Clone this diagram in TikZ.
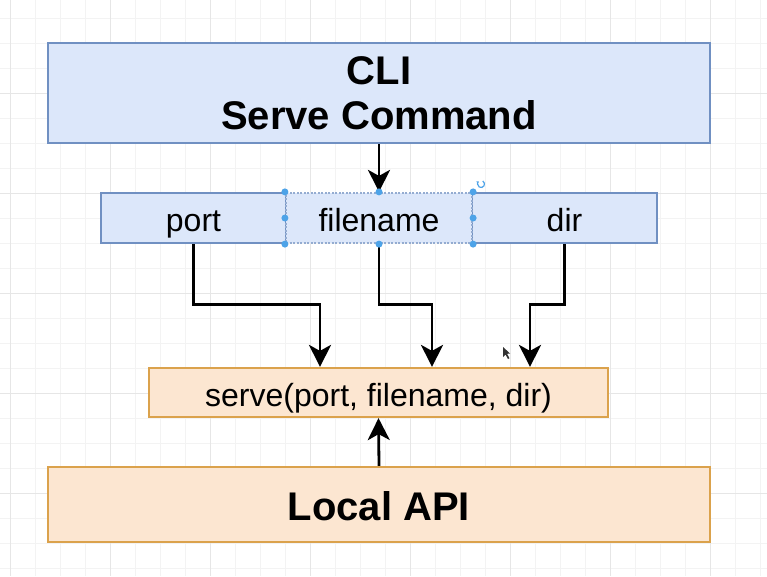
\documentclass[tikz,border=0pt]{standalone}
\usepackage{fontspec}
\setmainfont{Liberation Sans}
\usetikzlibrary{arrows.meta}
\definecolor{bluefill}{HTML}{DCE7FA}
\definecolor{blueline}{HTML}{7090C2}
\definecolor{orfill}{HTML}{FCE6D1}
\definecolor{orline}{HTML}{DBA24C}
\definecolor{gridminor}{HTML}{F3F3F3}
\definecolor{gridmajor}{HTML}{E6E6E6}
\definecolor{handle}{HTML}{4DA3E8}
\tikzset{
  bluebox/.style={draw=blueline, fill=bluefill, line width=2.2pt, rectangle, inner sep=0pt},
  orbox/.style={draw=orline, fill=orfill, line width=2.2pt, rectangle, inner sep=0pt},
  bigtxt/.style={font=\fontsize{40}{44}\selectfont\bfseries},
  bigone/.style={font=\fontsize{40}{44}\selectfont\bfseries, text height=36pt, text depth=3.4pt},
  midtxt/.style={font=\fontsize{32}{38}\selectfont, text height=30pt, text depth=3pt},
  arr/.style={draw=black, line width=2.8pt, -{Stealth[length=22pt,width=22pt,inset=6pt]}},
  hdot/.style={circle, fill=handle, inner sep=0pt, minimum size=7pt}
}
\begin{document}
\begin{tikzpicture}[x=1pt,y=-1pt]
\useasboundingbox (0,0) rectangle (767,576);
\fill[white] (0,0) rectangle (767,576);
% grid
\foreach \gx in {10,35,...,760} \draw[gridminor, line width=0.9pt] (\gx,0) -- (\gx,576);
\foreach \gy in {18,43,...,576} \draw[gridminor, line width=0.9pt] (0,\gy) -- (767,\gy);
\foreach \gx in {10,110,...,760} \draw[gridmajor, line width=0.9pt] (\gx,0) -- (\gx,576);
\foreach \gy in {93,193,...,576} \draw[gridmajor, line width=0.9pt] (0,\gy) -- (767,\gy);

% boxes
\node[bluebox, minimum width=662pt, minimum height=100pt] (cli) at (379,93) {};
\node[bigtxt, anchor=base, inner sep=0pt] (clit1) at (379,84) {CLI};
\node[bigtxt, anchor=base, inner sep=0pt] (clit2) at (379,129) {Serve Command};
\node[bluebox, midtxt, minimum width=185pt, minimum height=50pt] (port) at (193.5,218) {port};
\node[bluebox, midtxt, minimum width=185pt, minimum height=50pt] (dir) at (564.5,218) {dir};
\node[bluebox, midtxt, minimum width=186pt, minimum height=50pt, draw=blueline!75, dash pattern=on 2pt off 1.5pt] (file) at (379,218) {filename};
\node[orbox, midtxt, minimum width=459pt, minimum height=49pt] (serve) at (378.5,392.5) {serve(port, filename, dir)};
\node[orbox, bigone, minimum width=662pt, minimum height=75pt] (api) at (379,504.5) {Local API};

% connectors
\draw[arr] (cli.south) -- (file.north);
\draw[arr] (port.south) -- ++(0,60) -| ([xshift=-58.5pt]serve.north);
\draw[arr] (file.south) -- ++(0,60) -| ([xshift=53.5pt]serve.north);
\draw[arr] (dir.south) -- ++(0,60) -| ([xshift=151.5pt]serve.north);
\draw[arr] (api.north) -- (serve.south);

% selection handles
\foreach \a in {north west, north, north east, west, east, south west, south, south east}
  \node[hdot] at (file.\a) {};
\draw[handle, line width=1.2pt, -{Stealth[length=2.5pt,width=3pt]}] (481,184) ++(60:3.5pt) arc[start angle=60, end angle=-230, radius=3.5pt];

% cursor
\fill[black!80] (503,347) -- (503,357) -- (505.5,354.5) -- (508,359) -- (509.5,358.2) -- (507,353.8) -- (510,353.5) -- cycle;
\end{tikzpicture}
\end{document}
